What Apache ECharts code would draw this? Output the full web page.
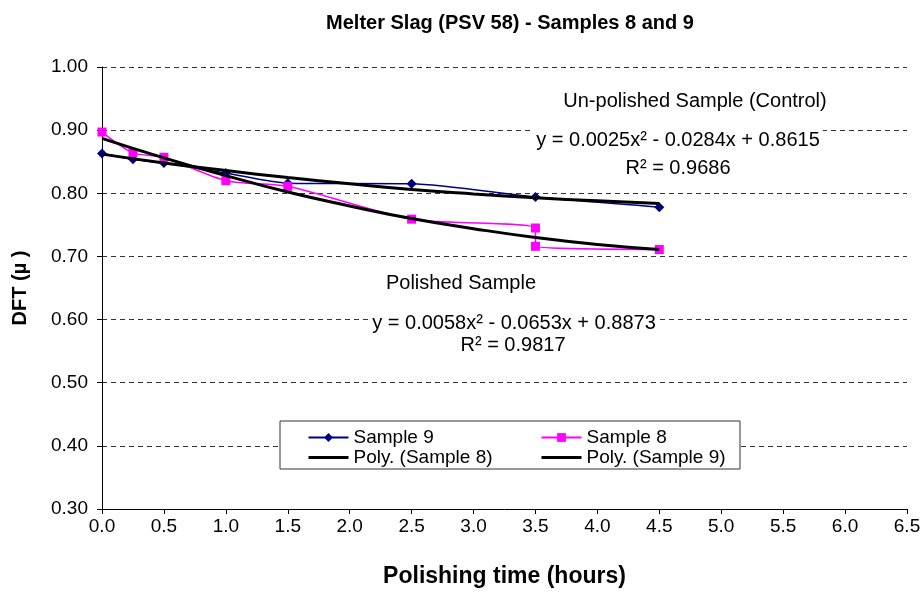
<!DOCTYPE html>
<html>
<head>
<meta charset="utf-8">
<script src="https://cdn.jsdelivr.net/npm/echarts@6/dist/echarts.min.js"></script>
<style>
  html, body { margin: 0; padding: 0; background: #fff; }
  #chart { width: 924px; height: 593px; }
</style>
</head>
<body>
<div id="chart"></div>
<script>
// polishing time (hours) and DFT readings
const sample9 = [[0, 0.863], [0.25, 0.854], [0.5, 0.848], [1, 0.832], [1.5, 0.816], [2.5, 0.815], [3.5, 0.794], [4.5, 0.778]];
const sample8 = [[0, 0.897], [0.25, 0.864], [0.5, 0.857], [1, 0.82], [1.5, 0.811], [2.5, 0.759], [3.5, 0.745], [3.5, 0.716], [4.5, 0.711]];
// trendline values
const trendX = [0, 0.5, 1, 1.5, 2, 2.5, 3, 3.5, 4, 4.5];
const poly8 = [0.887, 0.856, 0.828, 0.802, 0.780, 0.760, 0.744, 0.730, 0.719, 0.711];
const poly9 = [0.862, 0.848, 0.836, 0.825, 0.815, 0.806, 0.799, 0.793, 0.788, 0.784];

const font = "'Liberation Sans', Arial, sans-serif";
const zip = (xs, ys) => xs.map((x, i) => [x, ys[i]]);

function note(text, x, y, bg) {
  return {
    type: 'text', z: 5, x: x, y: y,
    style: {
      text: text, fontSize: 20, fontFamily: font, fill: '#000',
      align: 'center', verticalAlign: 'middle',
      backgroundColor: bg ? '#fff' : 'transparent', padding: bg ? [0, 3] : 0
    }
  };
}

let myChart = echarts.init(document.getElementById('chart'));
myChart.setOption({
  backgroundColor: '#fff',
  animation: false,
  textStyle: { fontFamily: font, color: '#000' },
  title: {
    text: 'Melter Slag (PSV 58) - Samples 8 and 9',
    left: 505,
    textAlign: 'center',
    top: 8,
    textStyle: { fontSize: 20, fontWeight: 'bold', color: '#000', fontFamily: font }
  },
  grid: { left: 102, right: 17, top: 67, bottom: 84 },
  xAxis: {
    type: 'value',
    min: 0,
    max: 6.5,
    interval: 0.5,
    name: 'Polishing time (hours)',
    nameLocation: 'middle',
    nameGap: 56,
    nameTextStyle: { fontSize: 23, fontWeight: 'bold', color: '#000', fontFamily: font },
    axisLine: { lineStyle: { color: '#000', width: 1 } },
    axisTick: { show: true, length: 5, lineStyle: { color: '#000' } },
    axisLabel: {
      fontSize: 19, color: '#000', margin: 8,
      formatter: v => v.toFixed(1)
    },
    splitLine: { show: false }
  },
  yAxis: {
    type: 'value',
    min: 0.3,
    max: 1.0,
    interval: 0.1,
    name: 'DFT (µ )',
    nameLocation: 'middle',
    nameGap: 72,
    nameTextStyle: { fontSize: 20, fontWeight: 'bold', color: '#000', fontFamily: font },
    axisLine: { show: true, lineStyle: { color: '#000', width: 1 } },
    axisTick: { show: true, length: 5, lineStyle: { color: '#000' } },
    axisLabel: {
      fontSize: 19, color: '#000', margin: 14,
      formatter: v => v.toFixed(2)
    },
    splitLine: { show: true, lineStyle: { color: '#333', width: 1, type: [5, 4] } }
  },
  legend: [
    {
      left: 302, top: 423, orient: 'vertical', itemGap: 1,
      itemWidth: 40, itemHeight: 11, z: 6,
      textStyle: { fontSize: 19, color: '#000', fontFamily: font },
      data: ['Sample 9', { name: 'Poly. (Sample 8)', itemStyle: { opacity: 0 }, lineStyle: { width: 3 } }]
    },
    {
      left: 535, top: 423, orient: 'vertical', itemGap: 1,
      itemWidth: 40, itemHeight: 11, z: 6,
      textStyle: { fontSize: 19, color: '#000', fontFamily: font },
      data: ['Sample 8', { name: 'Poly. (Sample 9)', itemStyle: { opacity: 0 }, lineStyle: { width: 3 } }]
    }
  ],
  graphic: [
    {
      type: 'rect', z: 5,
      shape: { x: 280, y: 421, width: 460, height: 48 },
      style: { fill: '#fff', stroke: '#333', lineWidth: 1 }
    },
    note('Un-polished Sample (Control)', 695, 101, false),
    note('y = 0.0025x² - 0.0284x + 0.8615', 678, 140, true),
    note('R² = 0.9686', 678, 168, false),
    note('Polished Sample', 461, 283, false),
    note('y = 0.0058x² - 0.0653x + 0.8873', 514, 323, true),
    note('R² = 0.9817', 513, 345, false)
  ],
  series: [
    {
      name: 'Sample 9',
      type: 'line',
      data: sample9,
      smooth: 0.25,
      symbol: 'diamond',
      symbolSize: 10,
      itemStyle: { color: '#000080' },
      lineStyle: { color: '#000080', width: 1.5 },
      z: 3
    },
    {
      name: 'Sample 8',
      type: 'line',
      data: sample8,
      smooth: 0.25,
      symbol: 'rect',
      symbolSize: 9,
      itemStyle: { color: '#ff00ff' },
      lineStyle: { color: '#ff00ff', width: 1.5 },
      z: 3
    },
    {
      name: 'Poly. (Sample 8)',
      type: 'line',
      data: zip(trendX, poly8),
      smooth: true,
      symbol: 'none',
      itemStyle: { color: '#000' },
      lineStyle: { color: '#000', width: 3 },
      z: 4
    },
    {
      name: 'Poly. (Sample 9)',
      type: 'line',
      data: zip(trendX, poly9),
      smooth: true,
      symbol: 'none',
      itemStyle: { color: '#000' },
      lineStyle: { color: '#000', width: 3 },
      z: 4
    }
  ]
});
</script>
</body>
</html>
